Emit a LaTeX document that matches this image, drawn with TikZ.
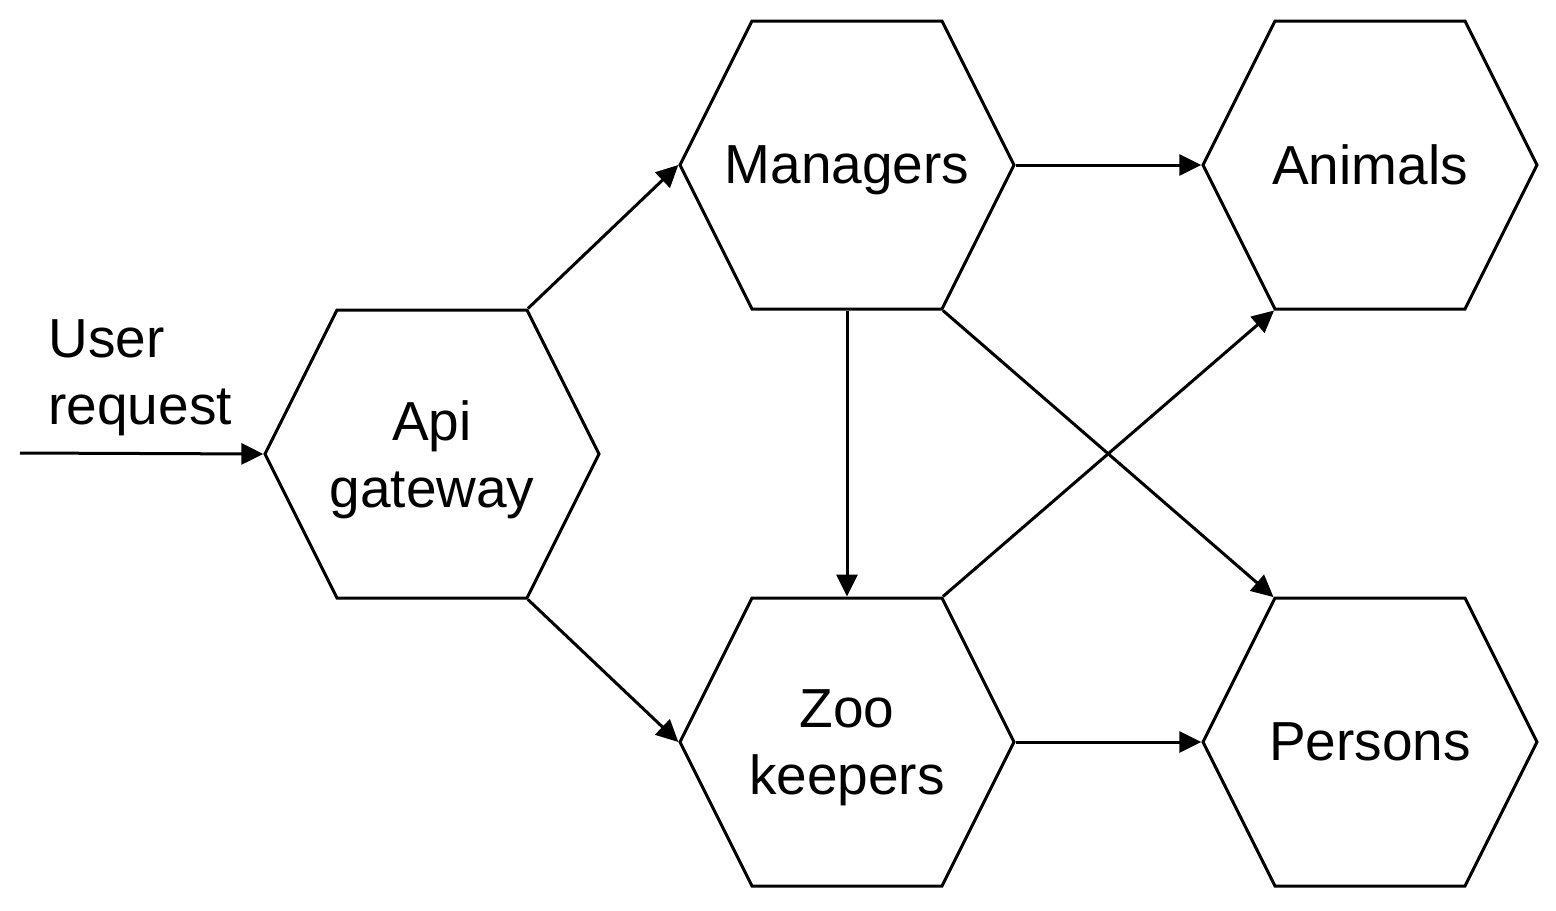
\documentclass[tikz,border=0pt]{standalone}
\usepackage{fontspec}
\setmainfont{Liberation Sans}
\usetikzlibrary{shapes.symbols, arrows.meta}

\begin{document}
\begin{tikzpicture}[
  x=0.5pt, y=-0.5pt,
  myhex/.style={
     signal,
     signal to=east and west,
     signal pointer angle=126.87,
     draw=black,
     line width=1.5pt,
     inner sep=0pt,
     text width=95pt,
     minimum height=144pt,
     execute at begin node={\centering\hyphenpenalty=10000
       \leftskip=0pt plus 1fil minus 60pt\rightskip=\leftskip},
     execute at end node={\endgraf\vspace*{-6pt}},
     font=\fontsize{27.5}{33.5}\selectfont},
  mylabel/.style={align=left, inner sep=0pt,
     font=\fontsize{27.5}{33.5}\selectfont},
  myarrow/.style={-{Triangle[length=11pt,width=10.5pt]}, line width=1.5pt}
  ]
  \useasboundingbox (0,0) rectangle (1556,910);

  \node[myhex] (api) at (432,454) {Api\\gateway};
  \node[myhex] (mgr) at (847,165) {Managers};
  \node[myhex] (zoo) at (847,742) {Zoo\\keepers};
  \node[myhex] (ani) at (1370,165) {Animals};
  \node[myhex] (per) at (1370,742) {Persons};

  % request coming in
  \node[mylabel, anchor=west] (usr) at (48,378) {User\\request};
  \coordinate (src) at (20,453);

% edges
\draw [myarrow] (src) -- (api.west);
\draw [myarrow] (api.north east) -- (mgr.west);
\draw [myarrow] (api.south east) -- (zoo.west);
\draw [myarrow] (mgr.east) -- (ani.west);
\draw [myarrow] (mgr.south) -- (zoo.north);
\draw [myarrow] (mgr.south east) -- (per.north west);
\draw [myarrow] (zoo.north east) -- (ani.south west);
\draw [myarrow] (zoo.east) -- (per.west);

\end{tikzpicture}
\end{document}
